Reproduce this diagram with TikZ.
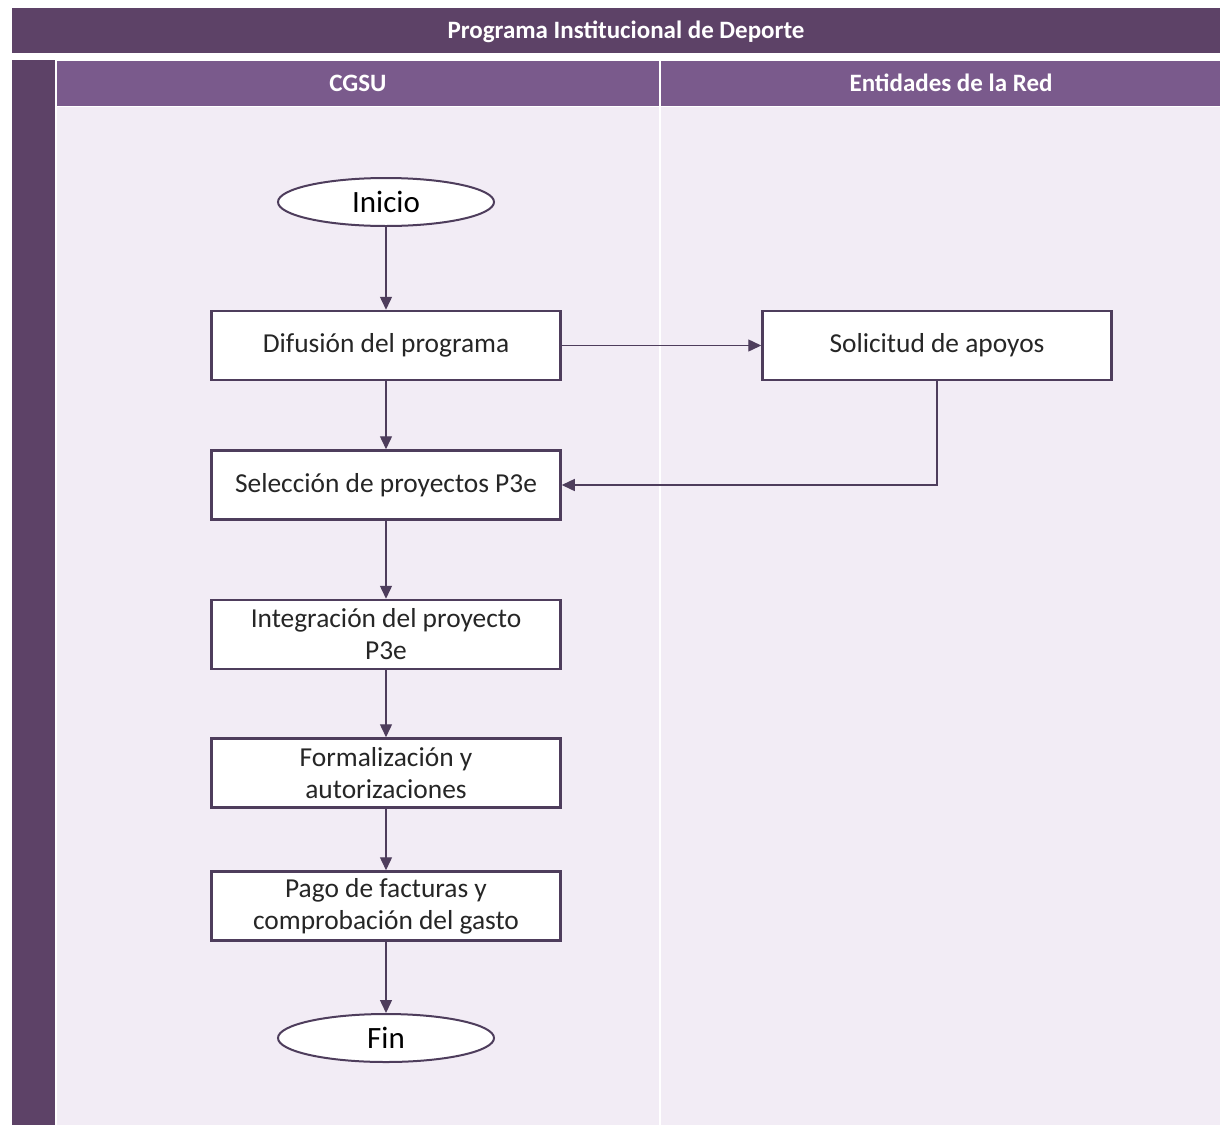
\documentclass[tikz,border=0pt]{standalone}
\usepackage{fontspec}
\setmainfont{Carlito}
\usepackage{tikz}
\usetikzlibrary{shapes.geometric, arrows.meta, positioning}
\definecolor{titlepurple}{HTML}{5D4267}
\definecolor{headpurple}{HTML}{7A5A8C}
\definecolor{lanebg}{HTML}{F2ECF5}
\definecolor{edgepurple}{HTML}{4E3D5C}
\tikzstyle{startstop} = [ellipse, minimum width=216pt, minimum height=48pt, inner sep=0pt, draw=edgepurple, line width=2pt, fill=white, font=\fontsize{31}{36}\selectfont]
\tikzstyle{process} = [rectangle, minimum width=349pt, minimum height=69pt, inner sep=0pt, align=center, draw=edgepurple, line width=2.5pt, fill=white, text=black!85, font=\fontsize{27.4}{32}\selectfont]
\tikzstyle{header} = [text=white, font=\fontsize{25}{30}\selectfont\bfseries]
\tikzstyle{arrow} = [line width=1.4pt, draw=edgepurple, -{Triangle[length=13pt, width=12pt]}]

\begin{document}
\begin{tikzpicture}[x=1pt, y=-1pt]
            % Lanes
            \fill[white] (0,0) rectangle (1220,1125);
            \useasboundingbox (0,0) rectangle (1220,1125);
            \fill[titlepurple] (12,8) rectangle (1220,53);
            \fill[titlepurple] (12,60) rectangle (55,1125);
            \fill[headpurple] (57,61) rectangle (659,106);
            \fill[headpurple] (661,61) rectangle (1220,106);
            \fill[lanebg] (57,107) rectangle (659,1125);
            \fill[lanebg] (661,107) rectangle (1220,1125);
            \node (title) [header] at (626,32) {Programa Institucional de Deporte};
            \node (cgsu) [header] at (358,83) {CGSU};
            \node (red) [header] at (951,83) {Entidades de la Red};

            % Nodes
            \node (inicio) [startstop] at (386,202) {Inicio};
            \node (difusion) [process, below of=inicio, node distance=143.5pt] {Difusión del programa};
            \node (solicitud) [process, right of=difusion, node distance=551pt] {Solicitud de apoyos};
            \node (seleccion) [process, below of=difusion, node distance=139.5pt] {Selección de proyectos P3e};
            \node (integracion) [process, below of=seleccion, node distance=149.5pt] {Integración del proyecto\\P3e};
            \node (formalizacion) [process, below of=integracion, node distance=138.5pt] {Formalización y\\autorizaciones};
            \node (pago) [process, below of=formalizacion, node distance=133pt] {Pago de facturas y\\comprobación del gasto};
            \node (fin) [startstop, below of=pago, node distance=132pt] {Fin};

            % Edges
            \draw [arrow] (inicio) -- (difusion);
            \draw [arrow] (difusion) -- (solicitud);
            \draw [arrow] (difusion) -- (seleccion);
            \draw [arrow] (solicitud) |- (seleccion);
            \draw [arrow] (seleccion) -- (integracion);
            \draw [arrow] (integracion) -- (formalizacion);
            \draw [arrow] (formalizacion) -- (pago);
            \draw [arrow] (pago) -- (fin);
        \end{tikzpicture}
\end{document}
